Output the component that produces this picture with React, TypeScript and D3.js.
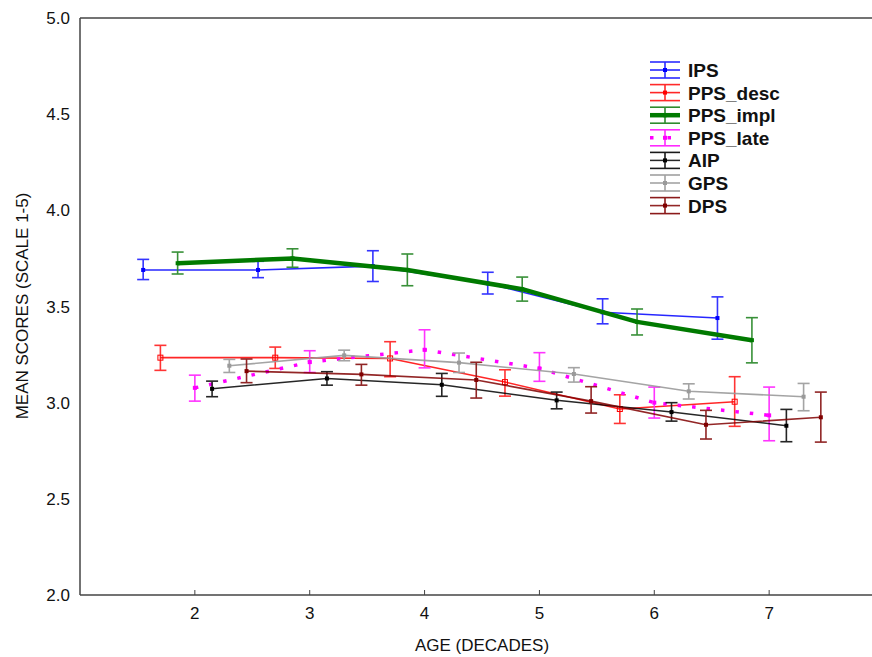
import React from "react";
import * as d3 from "d3";

const W = 872;
const H = 657;

const xTicks = [2, 3, 4, 5, 6, 7];
const yTicks = [2.0, 2.5, 3.0, 3.5, 4.0, 4.5, 5.0];

const seriesNames = ["IPS", "PPS_desc", "PPS_impl", "PPS_late", "AIP", "GPS", "DPS"];

const ipsX = [1.55, 2.55, 3.55, 4.55, 5.55, 6.55];
const ipsMean = [3.69, 3.69, 3.71, 3.62, 3.47, 3.44];
const ipsLo = [3.64, 3.65, 3.63, 3.565, 3.41, 3.33];
const ipsHi = [3.745, 3.735, 3.79, 3.678, 3.54, 3.55];

const descX = [1.7, 2.7, 3.7, 4.7, 5.7, 6.7];
const descMean = [3.234, 3.234, 3.23, 3.107, 2.967, 3.005];
const descLo = [3.168, 3.178, 3.135, 3.034, 2.892, 2.877];
const descHi = [3.298, 3.289, 3.317, 3.171, 3.041, 3.135];

const implX = [1.85, 2.85, 3.85, 4.85, 5.85, 6.85];
const implMean = [3.725, 3.75, 3.69, 3.59, 3.42, 3.325];
const implLo = [3.669, 3.704, 3.608, 3.528, 3.352, 3.207];
const implHi = [3.783, 3.8, 3.773, 3.653, 3.487, 3.442];

const lateX = [2.0, 3.0, 4.0, 5.0, 6.0, 7.0];
const lateMean = [3.077, 3.211, 3.275, 3.178, 3.0, 2.934];
const lateLo = [3.008, 3.157, 3.181, 3.111, 2.92, 2.802];
const lateHi = [3.143, 3.27, 3.379, 3.26, 3.081, 3.081];

const aipX = [2.15, 3.15, 4.15, 5.15, 6.15, 7.15];
const aipMean = [3.072, 3.126, 3.093, 3.012, 2.951, 2.88];
const aipLo = [3.031, 3.091, 3.033, 2.968, 2.904, 2.797];
const aipHi = [3.112, 3.161, 3.152, 3.055, 3.0, 2.965];

const gpsX = [2.3, 3.3, 4.3, 5.3, 6.3, 7.3];
const gpsMean = [3.192, 3.246, 3.208, 3.149, 3.059, 3.031];
const gpsLo = [3.157, 3.218, 3.157, 3.107, 3.019, 2.958];
const gpsHi = [3.225, 3.273, 3.258, 3.182, 3.098, 3.1];

const dpsX = [2.45, 3.45, 4.45, 5.45, 6.45, 7.45];
const dpsMean = [3.164, 3.147, 3.118, 3.008, 2.885, 2.924];
const dpsLo = [3.104, 3.091, 3.024, 2.946, 2.811, 2.795];
const dpsHi = [3.227, 3.199, 3.21, 3.083, 2.96, 3.055];

type Style = { color: string; width: number; dash?: string; opacity: number; hollow?: boolean };

const styles: Style[] = [
  { color: "#0000ff", width: 1.6, opacity: 0.85 },
  { color: "#ff0000", width: 1.6, opacity: 0.85, hollow: true },
  { color: "#007a00", width: 4.5, opacity: 1 },
  { color: "#ff00ff", width: 3.5, dash: "3.5 11", opacity: 1 },
  { color: "#000000", width: 1.5, opacity: 0.85 },
  { color: "#9a9a9a", width: 1.6, opacity: 0.9 },
  { color: "#800000", width: 1.6, opacity: 0.85 },
];

const errStyles = ["#2a2aff", "#ff2a2a", "#2e8b2e", "#ff2aff", "#1a1a1a", "#a0a0a0", "#8b1a1a"];

const xs = [ipsX, descX, implX, lateX, aipX, gpsX, dpsX];
const means = [ipsMean, descMean, implMean, lateMean, aipMean, gpsMean, dpsMean];
const los = [ipsLo, descLo, implLo, lateLo, aipLo, gpsLo, dpsLo];
const his = [ipsHi, descHi, implHi, lateHi, aipHi, gpsHi, dpsHi];

export default function App() {
  const x = d3.scaleLinear().domain([1, 8]).range([80, 884]);
  const y = d3.scaleLinear().domain([2, 5]).range([595, 18]);
  const font = "'Liberation Sans', Arial, sans-serif";
  const axisColor = "#444";
  const cap = 6;

  const series = seriesNames.map((name, i) => ({
    name,
    style: styles[i],
    err: errStyles[i],
    pts: xs[i].map((xv, j) => ({ x: xv, m: means[i][j], lo: los[i][j], hi: his[i][j] })),
  }));

  const line = d3
    .line<{ x: number; m: number }>()
    .x((d) => x(d.x))
    .y((d) => y(d.m));

  const legX = 650;
  const legY0 = 70;
  const legDy = 22.6;

  return (
    <svg
      width={W}
      height={H}
      style={{ position: "absolute", left: 0, top: 0, background: "#fff" }}
      fontFamily={font}
    >
      <rect x={0} y={0} width={W} height={H} fill="#fff" />
      {series.map((s) => (
        <g key={s.name}>
          {s.pts.map((p, j) => (
            <g key={j} stroke={s.err} strokeWidth={1.6} opacity={0.95}>
              <line x1={x(p.x)} x2={x(p.x)} y1={y(p.lo)} y2={y(p.hi)} />
              <line x1={x(p.x) - cap} x2={x(p.x) + cap} y1={y(p.lo)} y2={y(p.lo)} />
              <line x1={x(p.x) - cap} x2={x(p.x) + cap} y1={y(p.hi)} y2={y(p.hi)} />
            </g>
          ))}
          <path
            d={line(s.pts) || ""}
            fill="none"
            stroke={s.style.color}
            strokeWidth={s.style.width}
            strokeDasharray={s.style.dash}
            strokeOpacity={s.style.opacity}
            strokeLinejoin="round"
          />
          {s.pts.map((p, j) =>
            s.style.hollow ? (
              <rect
                key={"m" + j}
                x={x(p.x) - 2.5}
                y={y(p.m) - 2.5}
                width={5}
                height={5}
                fill="none"
                stroke={s.style.color}
                strokeWidth={1}
              />
            ) : (
              <rect
                key={"m" + j}
                x={x(p.x) - 2}
                y={y(p.m) - 2}
                width={4}
                height={4}
                fill={s.style.color}
              />
            )
          )}
        </g>
      ))}

      <line x1={80} x2={80} y1={18} y2={595} stroke={axisColor} strokeWidth={1.5} />
      <line x1={80} x2={W} y1={595} y2={595} stroke={axisColor} strokeWidth={1.5} />
      <line x1={80} x2={W} y1={18} y2={18} stroke={axisColor} strokeWidth={1.5} />

      {xTicks.map((t) => (
        <g key={t}>
          <line x1={x(t)} x2={x(t)} y1={595} y2={590} stroke={axisColor} strokeWidth={1} />
          <text x={x(t)} y={619} textAnchor="middle" fontSize={17} fill="#111">
            {t}
          </text>
        </g>
      ))}
      {yTicks.map((t) => (
        <text key={t} x={70} y={y(t) + 6} textAnchor="end" fontSize={17} fill="#111">
          {t.toFixed(1)}
        </text>
      ))}

      <text x={482} y={651} textAnchor="middle" fontSize={17} fill="#111">
        AGE (DECADES)
      </text>
      <text
        transform={`translate(28, ${306}) rotate(-90)`}
        textAnchor="middle"
        fontSize={17}
        fill="#111"
      >
        MEAN SCORES (SCALE 1-5)
      </text>

      {series.map((s, i) => {
        const ly = legY0 + i * legDy;
        const cx = legX + 15;
        return (
          <g key={"leg" + s.name}>
            <g stroke={s.err} strokeWidth={1.6}>
              <line x1={legX} x2={legX + 30} y1={ly - 8} y2={ly - 8} />
              <line x1={legX} x2={legX + 30} y1={ly + 8} y2={ly + 8} />
              <line x1={cx} x2={cx} y1={ly - 8} y2={ly + 8} />
            </g>
            <line
              x1={legX}
              x2={legX + 30}
              y1={ly}
              y2={ly}
              stroke={s.style.color}
              strokeWidth={s.style.width}
              strokeDasharray={s.style.dash ? "3.5 14" : undefined}
              strokeOpacity={s.style.opacity}
            />
            <rect x={cx - 2} y={ly - 2} width={4} height={4} fill={s.style.color} />
            <text x={legX + 38} y={ly + 7} fontSize={19} fontWeight="bold" fill="#111">
              {s.name}
            </text>
          </g>
        );
      })}
    </svg>
  );
}
